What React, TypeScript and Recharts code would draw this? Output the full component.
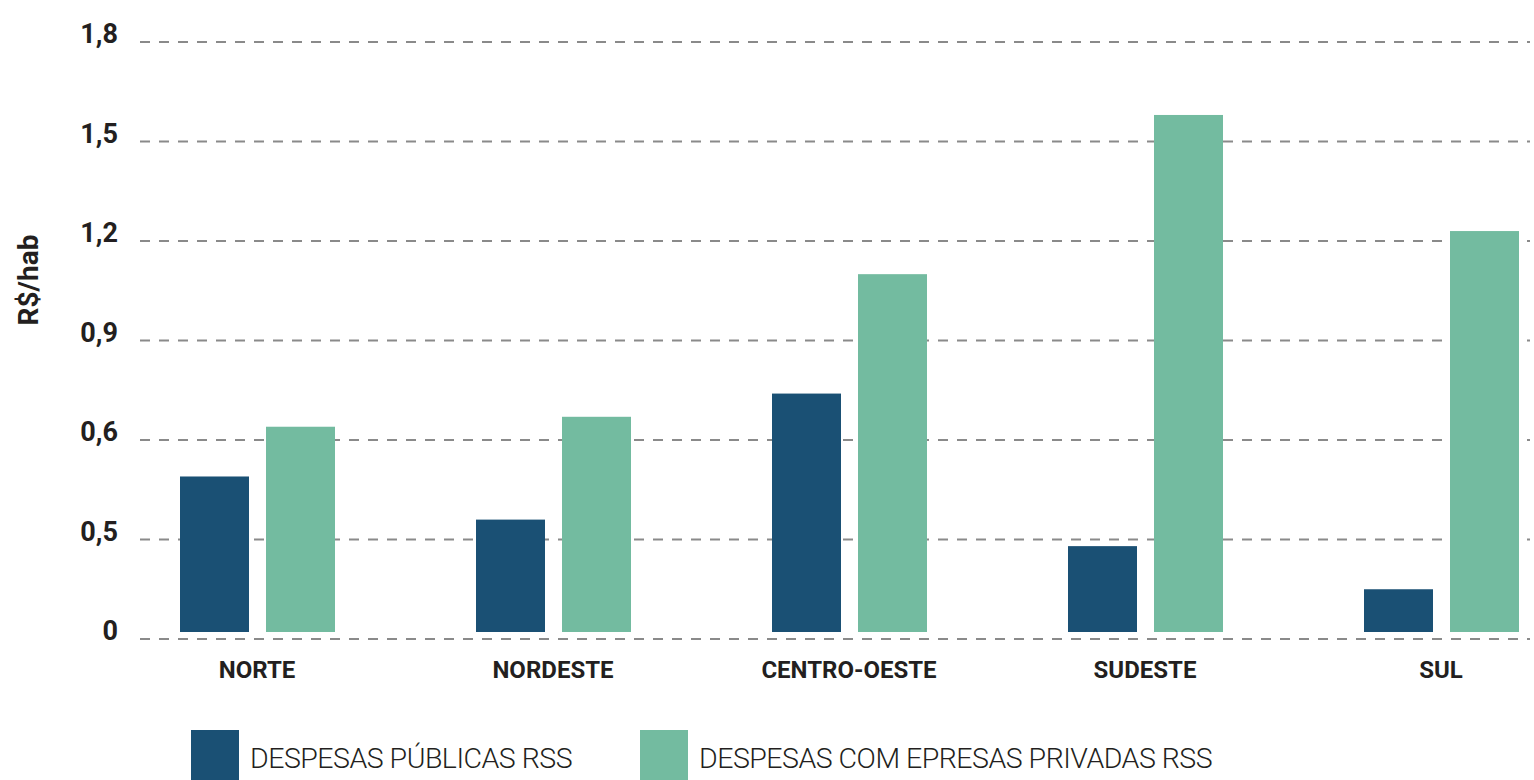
import { BarChart, Bar, XAxis, YAxis, CartesianGrid } from 'recharts';

const regioes = ['NORTE', 'NORDESTE', 'CENTRO-OESTE', 'SUDESTE', 'SUL'];
const despesasPublicas = [0.49, 0.36, 0.74, 0.28, 0.15];
const despesasPrivadas = [0.64, 0.67, 1.1, 1.58, 1.23];
const yTicks = [0, 0.3, 0.6, 0.9, 1.2, 1.5, 1.8];
const yTickLabels = ['0', '0,5', '0,6', '0,9', '1,2', '1,5', '1,8'];
const seriesNames = ['DESPESAS PÚBLICAS RSS', 'DESPESAS COM EPRESAS PRIVADAS RSS'];
const seriesColors = ['#1a5074', '#73bba0'];

const chartData = regioes.map((r, i) => ({
  regiao: r,
  publicas: despesasPublicas[i],
  privadas: despesasPrivadas[i],
}));

const textColor = '#231f20';
const font = 'Roboto, "Liberation Sans", sans-serif';

function YTick({ x, y, index }: any) {
  return (
    <text x={x} y={y + 1} textAnchor="end" fill={textColor}
      style={{ fontFamily: font, fontWeight: 700, fontSize: 27 }}>
      {yTickLabels[index]}
    </text>
  );
}

function XTick({ x, y, payload }: any) {
  return (
    <text x={x} y={y + 39} textAnchor="middle" fill={textColor}
      style={{ fontFamily: font, fontWeight: 700, fontSize: 24 }}>
      {payload.value}
    </text>
  );
}

// bars stop a few px above the zero line in the original
function GapBar(props: any) {
  const { x, y, width, height, fill } = props;
  return <rect x={x} y={y} width={width} height={Math.max(height - 7, 0)} fill={fill} />;
}

export default function App() {
  return (
    <div style={{ position: 'absolute', left: 0, top: 0, width: 1534, height: 780, overflow: 'hidden', background: '#fff' }}>
      <BarChart
        width={1534}
        height={780}
        data={chartData}
        margin={{ top: 42, right: 4, bottom: 111, left: 0 }}
        barSize={69}
        barGap={17}
      >
        <CartesianGrid vertical={false} stroke="#8a8a8a" strokeWidth={2} strokeDasharray="10 9" />
        <XAxis
          dataKey="regiao"
          height={30}
          axisLine={false}
          tickLine={false}
          tickSize={0}
          tickMargin={0}
          padding={{ left: -31, right: -59 }}
          tick={<XTick />}
          interval={0}
        />
        <YAxis
          width={140}
          domain={[0, 1.8]}
          ticks={yTicks}
          axisLine={false}
          tickLine={false}
          tickSize={0}
          tickMargin={22}
          tick={<YTick />}
          label={{
            content: () => (
              <text x={38} y={280} transform="rotate(-90 38 280)" textAnchor="middle" fill={textColor}
                style={{ fontFamily: font, fontWeight: 700, fontSize: 28 }}>
                R$/hab
              </text>
            ),
          }}
        />
        <Bar dataKey="publicas" name={seriesNames[0]} fill={seriesColors[0]} shape={<GapBar />} isAnimationActive={false} />
        <Bar dataKey="privadas" name={seriesNames[1]} fill={seriesColors[1]} shape={<GapBar />} isAnimationActive={false} />
      </BarChart>
      {seriesNames.map((name, i) => (
        <div key={name} style={{ position: 'absolute', left: i === 0 ? 191 : 640, top: 730 }}>
          <div style={{ position: 'absolute', left: 0, top: 0, width: 48, height: 50, background: seriesColors[i] }} />
          <div style={{
            position: 'absolute', left: 59, top: 17, whiteSpace: 'nowrap', fontFamily: font, fontWeight: 300,
            fontSize: 28.5, lineHeight: '24px', letterSpacing: -0.5, color: textColor,
          }}>
            {name}
          </div>
        </div>
      ))}
    </div>
  );
}
